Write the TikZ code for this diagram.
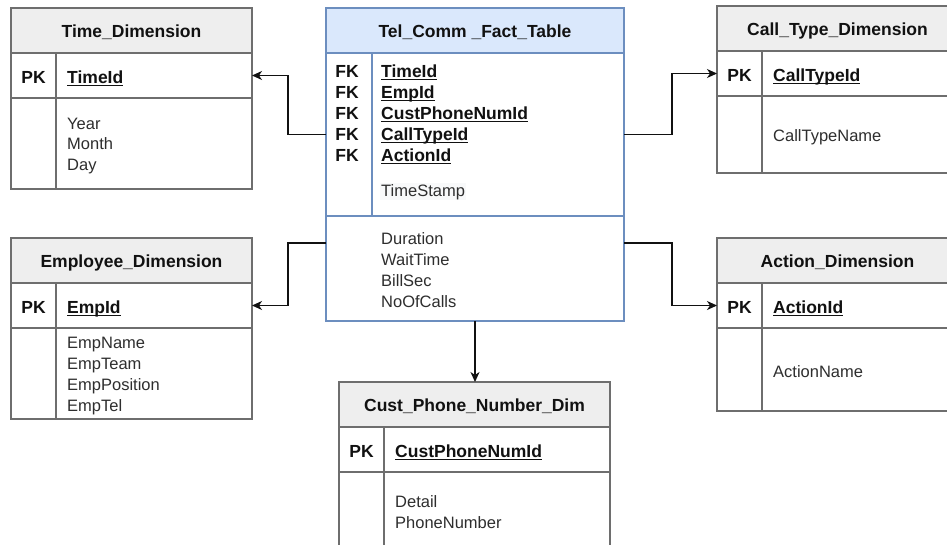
\documentclass[tikz,border=0pt]{standalone}
\usepackage{fontspec}
\setmainfont{Liberation Sans}
\usetikzlibrary{arrows.meta,calc}

\definecolor{tblline}{HTML}{6E6E6E}
\definecolor{hdrfill}{HTML}{EEEEEE}
\definecolor{facthdr}{HTML}{DAE8FC}
\definecolor{factline}{HTML}{6C8EBF}
\definecolor{bodyink}{HTML}{2E2E2E}
\definecolor{keyink}{HTML}{111111}
\definecolor{stampbg}{HTML}{F8F9FA}

% underlined key attribute
\newcommand\keyu[1]{\setbox0=\hbox{#1}\rlap{\rule[-3pt]{\wd0}{1.3pt}}\box0}

\tikzset{
  tblbox/.style={draw=tblline, line width=1.3pt, inner sep=0pt, outer sep=0pt, anchor=north west},
  hdrbox/.style={tblbox, fill=hdrfill, minimum height=45pt},
  rowbox/.style={tblbox, fill=white},
  facthdrbox/.style={draw=factline, fill=facthdr, line width=1.1pt, inner sep=0pt,
    outer sep=0pt, anchor=north west, minimum height=45pt},
  factrowbox/.style={draw=factline, fill=white, line width=1.1pt, inner sep=0pt,
    outer sep=0pt, anchor=north west},
  sepline/.style={draw=tblline, line width=1.3pt},
  titletxt/.style={inner sep=0pt, anchor=base, text=keyink,
    font=\fontsize{17.5}{21}\selectfont\bfseries},
  keytxt/.style={inner sep=0pt, text=keyink,
    font=\fontsize{17.5}{21}\selectfont\bfseries},
  bodytxt/.style={inner sep=0pt, text=bodyink, align=left,
    font=\fontsize{16.5}{20.8}\selectfont},
  link/.style={draw=keyink, line width=1.3pt,
    -{Stealth[length=10pt,width=9pt,inset=3pt]}},
}

% dimension table: name, x, y, width, body height, title, key, attributes
\newcommand\dimtab[8]{%
  \node[hdrbox, minimum width=#4pt] (#1h) at (#2,#3) {};
  \node[titletxt] (#1t) at ([yshift=-7pt]#1h.center) {#6};
  \node[rowbox, minimum width=#4pt, minimum height=45pt] (#1k) at (#1h.south west) {};
  \node[rowbox, minimum width=#4pt, minimum height=#5pt] (#1b) at (#1k.south west) {};
  \draw[sepline] ([xshift=45pt]#1k.north west) -- ([xshift=45pt]#1b.south west);
  \node[keytxt, anchor=base] (#1pk) at ([xshift=22.5pt,yshift=-7.5pt]#1k.west) {PK};
  \node[keytxt, anchor=base west] (#1kn) at ([xshift=56pt,yshift=-7.5pt]#1k.west) {\keyu{#7}};
  \node[bodytxt, anchor=west] (#1bt) at ([xshift=56pt,yshift=-2.5pt]#1b.west) {#8};
}

\begin{document}
\begin{tikzpicture}[x=1pt,y=-1pt]
\useasboundingbox (0,0) rectangle (947,544);
\clip (0,0) rectangle (947,544);

% dimension tables
\dimtab{tm}{11}{8}{241}{91}{Time\_Dimension}{TimeId}{Year\\Month\\Day}
\dimtab{em}{11}{238}{241}{91}{Employee\_Dimension}{EmpId}{EmpName\\EmpTeam\\EmpPosition\\EmpTel}
\dimtab{ct}{717}{6}{241}{77}{Call\_Type\_Dimension}{CallTypeId}{CallTypeName}
\dimtab{ac}{717}{238}{241}{83}{Action\_Dimension}{ActionId}{ActionName}
\dimtab{cp}{339}{382}{271}{75}{Cust\_Phone\_Number\_Dim}{CustPhoneNumId}{Detail\\PhoneNumber}

% fact table
\node[facthdrbox, minimum width=298pt] (fh) at (326,8) {};
\node[titletxt] (ft) at ([yshift=-7pt]fh.center) {Tel\_Comm \_Fact\_Table};
\node[factrowbox, minimum width=298pt, minimum height=163pt] (fk) at (fh.south west) {};
\node[factrowbox, minimum width=298pt, minimum height=105pt] (fm) at (fk.south west) {};
\draw[draw=factline, line width=1.1pt] ([xshift=46pt]fk.north west) -- ([xshift=46pt]fk.south west);
\foreach \key [count=\i] in {TimeId,EmpId,CustPhoneNumId,CallTypeId,ActionId}{
  \node[keytxt, anchor=base] (fk\i) at (347,56+21*\i) {FK};
  \node[keytxt, anchor=base west] (fn\i) at (381,56+21*\i) {\keyu{\key}};
}
\node[bodytxt, anchor=base west, fill=stampbg, inner sep=1pt] (fstamp) at (380,196) {TimeStamp};
\node[bodytxt, anchor=west] (fmeas) at (381,270) {Duration\\WaitTime\\BillSec\\NoOfCalls};

% links from the fact table to each dimension
\coordinate (fLlow) at ([yshift=-27pt]fm.north west);
\coordinate (fRlow) at ([yshift=-27pt]fm.north east);
\draw[link] (fk.west) -- ++(-38,0) |- (tmk.east);
\draw[link] (fLlow) -- ++(-38,0) |- (emk.east);
\draw[link] (fk.east) -- ++(48,0) |- (ctk.west);
\draw[link] (fRlow) -- ++(48,0) |- (ack.west);
\draw[link] (fm.south) -- (cph.north -| fm.south);
\end{tikzpicture}
\end{document}
